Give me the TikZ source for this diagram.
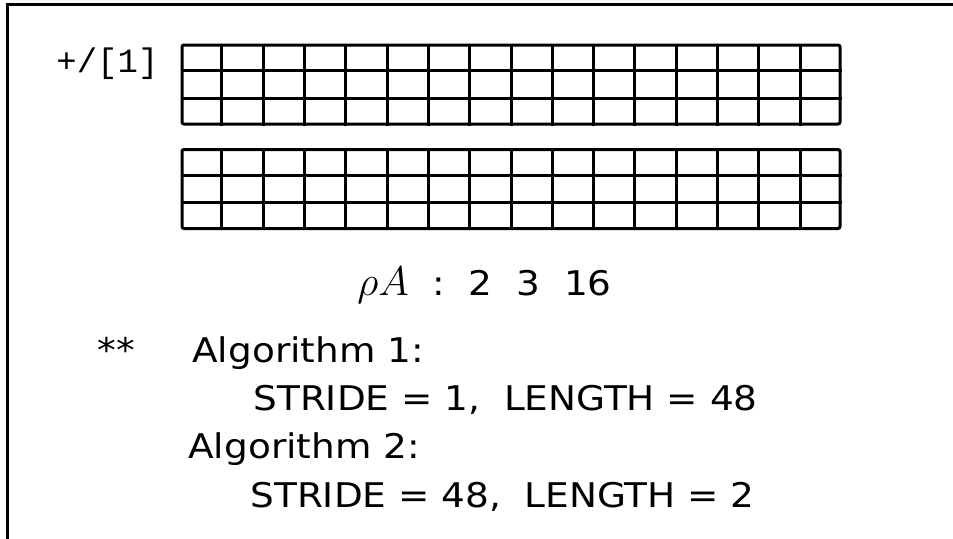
\documentclass[tikz,border=0pt]{standalone}
\usepackage{fontspec}
\setmainfont{DejaVu Sans}[FakeStretch=1.1]
\newfontfamily\codefont{Liberation Mono}
\usepackage{tikz}
\usetikzlibrary{calc, positioning}

\begin{document}
\begin{tikzpicture}[
    x=0.5pt, y=-0.5pt,
    frame/.style   = {line width=1.5pt, line cap=rect},
    gridbox/.style = {draw, line width=1.5pt, rounded corners=1pt, inner sep=0pt,
                      minimum width=329pt, minimum height=39.5pt},
    cell/.style    = {line width=1.5pt},
    txt/.style     = {anchor=base west, inner sep=0pt, font=\fontsize{17}{20}\selectfont},
    code/.style    = {anchor=base west, inner sep=0pt, font=\codefont\fontsize{17}{20}\selectfont},
  ]
  \useasboundingbox (0,0) rectangle (953,538);
  % frame, only top and left edges are visible
  \draw[frame] (7,540) |- (955,4);

  % the two 3 x 16 arrays
  \node[gridbox] (upper) at (511,84.5) {};
  \node[gridbox] (lower) at (511,189) {};
  \foreach \g in {upper,lower} {
    \foreach \i in {1,...,15}
      \draw[cell] ($(\g.north west)!\i/16!(\g.north east)$) -- ($(\g.south west)!\i/16!(\g.south east)$);
    \foreach \j in {1,2}
      \draw[cell] ($(\g.north west)!\j/3!(\g.south west)$) -- ($(\g.north east)!\j/3!(\g.south east)$);
  }
  \node[code] (reduce) at (56,72) {+/[1]};

  % shape and notes
  \node[txt] (shape) at (357,295) {{\fontsize{21.5}{24}\selectfont$\rho A$}~~:~~2~~3~~16};
  \node[txt] (stars) at (97,362) {**};
  \node[txt] (alg1)  at (192,362) {Algorithm 1:};
  \node[txt] (par1)  at (253,410) {STRIDE = 1,~~LENGTH = 48};
  \node[txt] (alg2)  at (188,458) {Algorithm 2:};
  \node[txt] (par2)  at (250,507) {STRIDE = 48,~~LENGTH = 2};
\end{tikzpicture}
\end{document}
